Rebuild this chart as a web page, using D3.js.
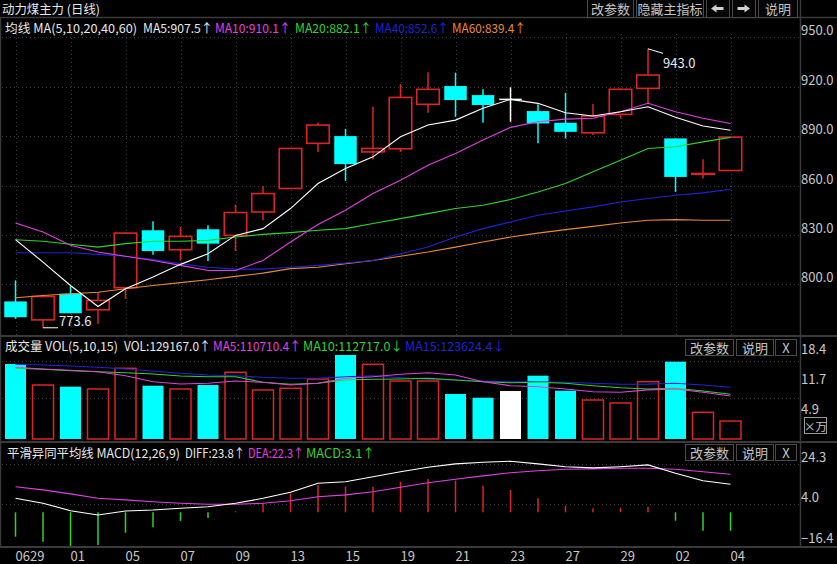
<!DOCTYPE html>
<html><head><meta charset="utf-8">
<script src="https://cdn.jsdelivr.net/npm/d3@7"></script>
<style>
body{margin:0;background:#000;}
svg{display:block;}
text{font-family:"Noto Sans CJK SC","Noto Sans",sans-serif;}
</style>
</head><body>
<svg id="c" width="837" height="564"></svg>
<script>
// ---------------- data ----------------
const dates = ["0629","0630","0701","0702","0705","0706","0707","0708","0709","0712","0713","0714","0715","0716","0719","0720","0721","0722","0723","0726","0727","0728","0729","0730","0802","0803","0804"];
const xTickLabels = ["0629","01","05","07","09","13","15","19","21","23","27","29","02","04"];

const openP  = [789.6,778.4,794.3,784.5,797.9,832.8,821.0,833.4,829.7,843.9,858.2,885.6,890.0,880.4,882.3,909.3,920.4,914.9,912.3,905.2,898.1,892.0,903.2,919.0,888.6,867.0,869.1];
const highP  = [802.4,793.6,798.9,795.2,831.5,838.3,834.8,835.8,848.4,859.7,882.5,898.1,894.3,907.8,921.6,928.8,928.5,918.4,919.6,909.3,916.3,909.5,919.0,943.0,888.6,876.0,889.4];
const lowP   = [779.0,773.6,782.4,776.0,791.2,818.0,814.5,814.1,820.2,838.9,858.2,880.4,862.8,875.8,880.4,904.2,901.7,898.1,898.7,885.6,888.6,890.6,900.8,909.9,856.1,864.2,869.1];
const closeP = [780.0,792.6,782.4,790.2,831.1,820.2,829.1,824.7,843.6,855.1,882.5,896.7,873.0,882.5,913.5,918.4,911.9,908.9,912.3,897.7,892.6,902.2,918.4,927.1,865.2,867.3,889.4];

const ma5  = [827.1,813.5,799.3,786.5,797.3,804.4,812.1,818.6,829.7,833.8,846.0,861.2,870.3,877.4,889.6,896.7,899.7,906.9,912.3,909.9,904.2,902.2,904.8,907.8,901.4,896.1,893.6];
const ma10 = [837.2,831.7,823.7,819.6,817.0,814.5,811.5,808.4,808.4,814.5,825.7,836.3,845.0,855.1,863.2,872.3,879.5,887.6,895.3,898.7,900.3,900.8,904.8,909.9,904.8,900.8,897.7];
const ma20 = [827.1,826.1,824.3,822.6,824.7,826.1,826.1,826.7,828.7,830.3,831.4,832.8,833.8,836.9,839.9,842.9,846.0,848.0,851.5,856.1,861.2,868.3,875.4,882.5,883.5,886.5,889.2];
const ma40 = [819.2,819.2,819.2,818.2,817.0,815.0,812.5,810.4,809.2,809.2,810.4,811.5,812.9,814.5,818.6,822.6,828.7,833.8,837.8,841.9,844.5,847.0,850.0,852.1,854.1,855.5,857.7];
const ma60 = [791.8,793.2,794.3,795.2,797.3,799.3,801.0,802.8,804.8,806.8,809.5,810.4,812.5,814.5,817.0,819.6,822.6,825.7,828.7,831.1,833.2,835.2,837.2,838.9,839.3,838.9,838.9];
const priceTicks = [950,920,890,860,830,800];

// volume in 万 (x10000)
const vol     = [16.89,12.16,11.78,11.26,15.92,12.00,11.26,12.16,15.02,11.04,11.42,13.51,18.92,16.82,13.06,13.06,10.14,9.30,10.81,14.26,10.88,8.78,8.11,12.92,17.41,6.01,4.05];
const volMa5  = [16.15,15.77,15.47,15.16,14.26,12.90,12.39,12.55,13.06,12.77,12.16,12.55,13.67,14.03,14.57,14.93,14.41,12.90,12.00,11.78,11.26,10.65,10.52,11.07,11.26,10.52,9.68];
const volMa10 = [15.92,15.70,15.38,15.16,14.93,14.64,14.19,14.03,14.03,12.77,12.32,12.55,13.29,13.45,13.51,13.67,13.29,12.90,12.68,12.77,12.55,12.00,11.55,11.27,11.42,10.81,10.07];
const volMa15 = [16.82,16.67,16.44,16.15,15.77,15.32,14.80,14.41,14.26,13.90,13.67,13.67,14.03,14.26,13.81,13.45,13.29,13.06,12.90,12.90,12.77,12.55,12.32,12.36,12.55,12.16,11.64];
const volTicks = [18.4,11.7,4.9];
const volGrid = [17.6,9.3];

const diff = [7.0,4.5,0.8,-1.35,0.65,1.15,2.0,2.8,4.5,7.0,10.0,14.5,15.3,17.8,20.3,22.5,24.2,25.0,25.5,24.2,22.8,22.2,22.8,23.7,19.5,15.8,14.0];
const dea  = [12.8,11.2,9.2,7.0,6.2,5.3,4.5,4.0,4.0,4.5,5.8,7.8,8.7,10.3,12.5,14.8,16.5,18.2,19.8,20.8,21.5,21.7,22.0,22.0,21.5,20.3,19.0];
const macd = [-12.2,-14.7,-16.8,-16.3,-10.2,-7.5,-4.3,-2.8,0.5,4.5,9.5,13.6,12.8,12.8,15.3,16.7,15.8,13.3,11.2,7.0,3.3,2.0,2.3,2.8,-4.2,-9.2,-9.2];
const macdTicks = [24.3,4.0,-16.4];

// ---------------- style ----------------
const C = {white:"#e8e8e8", mag:"#e040e0", green:"#2ed42e", blue:"#2222d8", orange:"#e88a34",
           red:"#dc2424", cyan:"#00ffff", grid:"#3c3c3c", border:"#3a3a3a", axis:"#c8c8c8"};
const FONT = '"Noto Sans CJK SC","Noto Sans",sans-serif';

const svg = d3.select("#c");
svg.append("rect").attr("width",837).attr("height",564).attr("fill","#000");

const x = d3.scalePoint().domain(d3.range(dates.length)).range([15.5,730.5]);
const yP = d3.scaleLinear().domain([800,920]).range([284.3,86.7]);
const yV = d3.scaleLinear().domain([0,18.4]).range([439,357.3]);
const yM = d3.scaleLinear().domain([-16.4,24.3]).range([545.1,463.7]);

// ---------------- frame ----------------
const frame = svg.append("g").attr("stroke",C.border).attr("stroke-width",1.5);
frame.append("line").attr("x1",0).attr("x2",837).attr("y1",17.5).attr("y2",17.5);
frame.append("line").attr("x1",0).attr("x2",837).attr("y1",336).attr("y2",336).attr("stroke-width",2);
frame.append("line").attr("x1",0).attr("x2",837).attr("y1",442).attr("y2",442).attr("stroke-width",2);
frame.append("line").attr("x1",0).attr("x2",837).attr("y1",547).attr("y2",547).attr("stroke-width",2);
frame.append("line").attr("x1",800.5).attr("x2",800.5).attr("y1",0).attr("y2",547);
frame.append("line").attr("x1",0.5).attr("x2",0.5).attr("y1",17).attr("y2",547);

// ---------------- grid ----------------
const grid = svg.append("g").attr("stroke",C.grid).attr("stroke-dasharray","1,3").attr("stroke-width",1);
grid.selectAll(".hg").data(priceTicks).join("line")
  .attr("x1",2).attr("x2",800).attr("y1",d=>Math.round(yP(d))+0.5).attr("y2",d=>Math.round(yP(d))+0.5);
grid.selectAll(".vg").data(d3.range(0,dates.length,2)).join("line")
  .attr("x1",d=>Math.round(x(d))+0.5).attr("x2",d=>Math.round(x(d))+0.5).attr("y1",34).attr("y2",335);
grid.selectAll(".vgv").data(volGrid).join("line")
  .attr("x1",2).attr("x2",800).attr("y1",d=>Math.round(yV(d))+0.5).attr("y2",d=>Math.round(yV(d))+0.5);
grid.selectAll(".mg").data(macdTicks.slice(0,2)).join("line")
  .attr("x1",2).attr("x2",800).attr("y1",d=>Math.round(yM(d))+0.5).attr("y2",d=>Math.round(yM(d))+0.5);

// ---------------- candles ----------------
const colorOf = i => closeP[i] > openP[i] ? C.red : (closeP[i] < openP[i] ? C.cyan : "#ffffff");
const idx = d3.range(dates.length);
const cg = svg.append("g");
cg.selectAll(".wick").data(idx).join("line")
  .attr("x1",i=>x(i)).attr("x2",i=>x(i)).attr("y1",i=>yP(highP[i])).attr("y2",i=>yP(lowP[i]))
  .attr("stroke",colorOf).attr("stroke-width",1.5);
const BW = 22.5;
cg.selectAll(".body").data(idx.filter(i=>openP[i]!==closeP[i])).join("rect")
  .attr("x",i=>x(i)-BW/2).attr("width",BW)
  .attr("y",i=>yP(Math.max(openP[i],closeP[i])))
  .attr("height",i=>Math.max(0.8, yP(Math.min(openP[i],closeP[i]))-yP(Math.max(openP[i],closeP[i]))))
  .attr("fill",i=>closeP[i]>openP[i] ? "#000" : C.cyan)
  .attr("stroke",colorOf).attr("stroke-width",i=>closeP[i]>openP[i]?1.6:0);
cg.selectAll(".doji").data(idx.filter(i=>openP[i]===closeP[i])).join("line")
  .attr("x1",i=>x(i)-BW/2).attr("x2",i=>x(i)+BW/2).attr("y1",i=>yP(closeP[i])).attr("y2",i=>yP(closeP[i]))
  .attr("stroke",colorOf).attr("stroke-width",1.5);

// MA lines
const line = d3.line().x((d,i)=>x(i)).y(d=>yP(d));
[[ma60,C.orange],[ma40,C.blue],[ma20,C.green],[ma10,C.mag],[ma5,"#ffffff"]].forEach(([arr,col])=>{
  svg.append("path").datum(arr).attr("d",line).attr("fill","none").attr("stroke",col).attr("stroke-width",1.1);
});

// high / low markers
const iLo = d3.minIndex(lowP), iHi = d3.maxIndex(highP);
svg.append("line").attr("x1",x(iLo)).attr("x2",x(iLo)+15).attr("y1",yP(lowP[iLo])).attr("y2",yP(lowP[iLo]))
  .attr("stroke","#fff").attr("stroke-width",1);
svg.append("text").attr("x",x(iLo)+16).attr("y",yP(lowP[iLo])-7).attr("dominant-baseline","central")
  .attr("fill","#e8e8e8").attr("font-size",13).text(lowP[iLo].toFixed(1));
svg.append("line").attr("x1",x(iHi)).attr("x2",x(iHi)+15).attr("y1",yP(highP[iHi])).attr("y2",yP(highP[iHi])+4.5)
  .attr("stroke","#fff").attr("stroke-width",1);
svg.append("text").attr("x",x(iHi)+15).attr("y",yP(highP[iHi])+14).attr("dominant-baseline","central")
  .attr("fill","#e8e8e8").attr("font-size",13).text(highP[iHi].toFixed(1));

// ---------------- volume ----------------
const VW = 21;
svg.append("g").selectAll("rect").data(idx).join("rect")
  .attr("x",i=>x(i)-VW/2).attr("width",VW)
  .attr("y",i=>yV(vol[i])).attr("height",i=>yV(0)-yV(vol[i]))
  .attr("fill",i=>closeP[i]>openP[i] ? "none" : colorOf(i))
  .attr("stroke",i=>closeP[i]>openP[i] ? C.red : "none").attr("stroke-width",1.5);
const vline = d3.line().x((d,i)=>x(i)).y(d=>yV(d));
[[volMa15,C.blue],[volMa10,C.green],[volMa5,C.mag]].forEach(([arr,col])=>{
  svg.append("path").datum(arr).attr("d",vline).attr("fill","none").attr("stroke",col).attr("stroke-width",1.1);
});

// ---------------- MACD ----------------
svg.append("g").selectAll("line").data(idx).join("line")
  .attr("x1",i=>x(i)).attr("x2",i=>x(i)).attr("y1",yM(0)).attr("y2",i=>yM(macd[i]))
  .attr("stroke",i=>macd[i]>=0?C.red:C.green).attr("stroke-width",1.5);
const mline = d3.line().x((d,i)=>x(i)).y(d=>yM(d));
[[dea,C.mag],[diff,"#ffffff"]].forEach(([arr,col])=>{
  svg.append("path").datum(arr).attr("d",mline).attr("fill","none").attr("stroke",col).attr("stroke-width",1.1);
});

// ---------------- axes ----------------
function styleAxis(g, dy){
  g.attr("font-family",FONT).attr("font-size",13);
  g.select(".domain").remove();
  g.selectAll(".tick line").remove();
  g.selectAll("text").attr("fill",C.axis).attr("dy","0.32em").attr("y",dy);
}
svg.append("g").attr("transform","translate(800,0)")
  .call(d3.axisRight(yP).tickValues(priceTicks).tickFormat(d3.format(".1f")).tickSize(0).tickPadding(1))
  .call(g=>styleAxis(g,-6.5));
svg.append("g").attr("transform","translate(800,0)")
  .call(d3.axisRight(yV).tickValues(volTicks).tickFormat(d3.format(".1f")).tickSize(0).tickPadding(1))
  .call(g=>styleAxis(g,-8));
svg.append("g").attr("transform","translate(800,0)")
  .call(d3.axisRight(yM).tickValues(macdTicks).tickFormat(d3.format(".1f")).tickSize(0).tickPadding(1))
  .call(g=>styleAxis(g,-6.5));
svg.append("g").attr("transform","translate(0,547)")
  .call(d3.axisBottom(x).tickValues(d3.range(0,dates.length,2)).tickFormat((d,k)=>xTickLabels[k]).tickSize(0))
  .call(g=>{styleAxis(g,9.5); g.selectAll("text").attr("text-anchor","start").attr("x",-0.5);});

// ×万 box
svg.append("rect").attr("x",804.5).attr("y",417.5).attr("width",22).attr("height",16)
  .attr("fill","#000").attr("stroke","#9a9a9a").attr("stroke-width",1);
svg.append("text").attr("x",815.5).attr("y",426).attr("text-anchor","middle").attr("dominant-baseline","central")
  .attr("fill",C.axis).attr("font-size",11.5).text("×万");

// ---------------- headers ----------------
// each item: [text, left x, width, colour]
function header(items, cy){
  svg.append("g").selectAll("text").data(items).join("text")
    .attr("x",d=>d[1]).attr("y",cy).attr("dominant-baseline","central")
    .attr("textLength",d=>d[2]).attr("lengthAdjust","spacingAndGlyphs")
    .attr("fill",d=>d[3]).attr("font-size",12.5).text(d=>d[0]);
}
header([["动力煤主力 (日线)",2,98,C.white]], 8.5);
header([["均线 MA(5,10,20,40,60)",5,132,C.white],["MA5:907.5↑",143,70,C.white],["MA10:910.1↑",215,76,C.mag],
        ["MA20:882.1↑",295,77,C.green],["MA40:852.6↑",375,74,C.blue],["MA60:839.4↑",452,74,C.orange]], 27);
header([["成交量 VOL(5,10,15)",5,113,C.white],["VOL:129167.0↑",124,87,C.white],["MA5:110710.4↑",213,88,C.mag],
        ["MA10:112717.0↓",303,100,C.green],["MA15:123624.4↓",405,100,C.blue]], 345.5);
header([["平滑异同平均线 MACD(12,26,9)",7,173,C.white],["DIFF:23.8↑",185,60,C.white],["DEA:22.3↑",248,56,C.mag],
        ["MACD:3.1↑",306,69,C.green]], 452);

// ---------------- buttons ----------------
function button(x0,x1,y0,y1,label){
  svg.append("rect").attr("x",x0+0.5).attr("y",y0+0.5).attr("width",x1-x0).attr("height",y1-y0)
    .attr("fill","#050505").attr("stroke","#4a4a4a").attr("stroke-width",1);
  if(label) svg.append("text").attr("x",(x0+x1)/2+0.5).attr("y",(y0+y1)/2+0.5).attr("text-anchor","middle")
    .attr("dominant-baseline","central").attr("fill","#c4c4c4").attr("font-size",13).text(label);
}
button(587,633,-1,17,"改参数");
button(636,703,-1,17,"隐藏主指标");
button(706,729,-1,17,null);
button(732,755,-1,17,null);
button(758,797,-1,17,"说明");
svg.append("path").attr("d","M711,8.5 L716.5,4.5 L716.5,7 L723.5,7 L723.5,10 L716.5,10 L716.5,12.5 Z").attr("fill","#d0d0d0");
svg.append("path").attr("d","M750,8.5 L744.5,4.5 L744.5,7 L737.5,7 L737.5,10 L744.5,10 L744.5,12.5 Z").attr("fill","#d0d0d0");
[[339,355],[444,460]].forEach(([a,b])=>{
  button(685,733,a,b,"改参数");
  button(736,773,a,b,"说明");
  button(775,796,a,b,"X");
});
</script>
</body></html>
